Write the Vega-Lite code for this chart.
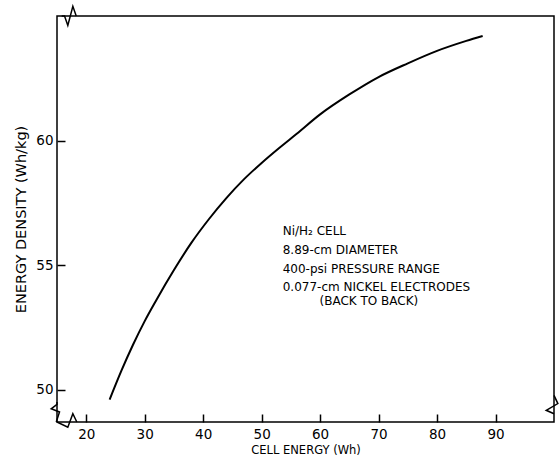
{
  "$schema": "https://vega.github.io/schema/vega-lite/v6.json",
  "width": 497,
  "height": 406,
  "autosize": {"type": "none"},
  "padding": {"left": 57, "top": 16, "right": 6, "bottom": 38},
  "background": "white",
  "config": {
    "view": {"stroke": "black", "strokeWidth": 1.5},
    "font": "DejaVu Sans",
    "axis": {
      "grid": false,
      "domain": false,
      "ticks": true,
      "offset": -8,
      "tickColor": "black",
      "tickWidth": 1.5,
      "tickSize": 8,
      "labelColor": "black",
      "labelFont": "DejaVu Sans",
      "labelFontSize": 13.5,
      "titleColor": "black",
      "titleFont": "DejaVu Sans",
      "titleFontWeight": "normal"
    }
  },
  "datasets": {
    "curve": [
      {"energy": 24, "density": 49.6},
      {"energy": 26, "density": 50.75},
      {"energy": 28, "density": 51.8},
      {"energy": 30, "density": 52.75},
      {"energy": 32, "density": 53.6},
      {"energy": 35, "density": 54.8},
      {"energy": 38, "density": 55.9},
      {"energy": 41, "density": 56.85},
      {"energy": 44, "density": 57.7},
      {"energy": 47, "density": 58.45},
      {"energy": 50, "density": 59.1},
      {"energy": 53, "density": 59.7},
      {"energy": 56, "density": 60.27},
      {"energy": 60, "density": 61.05},
      {"energy": 65, "density": 61.85},
      {"energy": 70, "density": 62.55},
      {"energy": 75, "density": 63.1},
      {"energy": 80, "density": 63.6},
      {"energy": 85, "density": 64.0},
      {"energy": 87.8, "density": 64.2}
    ],
    "breaks": [
      {"brk": "top", "i": 1, "energy": 15.8, "density": 65},
      {"brk": "top", "i": 2, "energy": 16.29, "density": 65},
      {"brk": "top", "i": 3, "energy": 16.85, "density": 64.62},
      {"brk": "top", "i": 4, "energy": 17.71, "density": 65.39},
      {"brk": "top", "i": 5, "energy": 18.29, "density": 65},
      {"brk": "left", "i": 1, "energy": 15, "density": 49.5},
      {"brk": "left", "i": 2, "energy": 15, "density": 49.41},
      {"brk": "left", "i": 3, "energy": 14.01, "density": 49.23},
      {"brk": "left", "i": 4, "energy": 15.43, "density": 49.1},
      {"brk": "left", "i": 5, "energy": 14.87, "density": 48.7},
      {"brk": "bottom", "i": 1, "energy": 15, "density": 48.7},
      {"brk": "bottom", "i": 2, "energy": 16.85, "density": 48.49},
      {"brk": "bottom", "i": 3, "energy": 17.71, "density": 49.03},
      {"brk": "bottom", "i": 4, "energy": 18.39, "density": 48.7},
      {"brk": "right", "i": 1, "energy": 100, "density": 49.77},
      {"brk": "right", "i": 2, "energy": 100.66, "density": 49.44},
      {"brk": "right", "i": 3, "energy": 98.67, "density": 49.17},
      {"brk": "right", "i": 4, "energy": 100, "density": 49.03}
    ],
    "notes": [
      {"x": 53.6, "y": 56.35, "label": "Ni/H₂ CELL"},
      {"x": 53.6, "y": 55.6, "label": "8.89-cm DIAMETER"},
      {"x": 53.6, "y": 54.85, "label": "400-psi PRESSURE RANGE"},
      {"x": 53.6, "y": 54.11, "label": "0.077-cm NICKEL ELECTRODES"},
      {"x": 59.9, "y": 53.57, "label": "(BACK TO BACK)"}
    ]
  },
  "layer": [
    {
      "data": {"name": "curve"},
      "mark": {"type": "line", "color": "black", "strokeWidth": 2, "interpolate": "monotone"},
      "encoding": {
        "x": {
          "field": "energy",
          "type": "quantitative",
          "scale": {"domain": [15, 100], "nice": false, "zero": false},
          "axis": {"values": [20, 30, 40, 50, 60, 70, 80, 90], "title": "CELL ENERGY (Wh)", "titleFontSize": 11.5, "labelPadding": 5, "titlePadding": 4}
        },
        "y": {
          "field": "density",
          "type": "quantitative",
          "scale": {"domain": [48.7, 65], "nice": false, "zero": false},
          "axis": {"values": [50, 55, 60], "title": "ENERGY DENSITY (Wh/kg)", "titleFontSize": 14.5, "labelPadding": 4, "titlePadding": 7}
        }
      }
    },
    {
      "data": {"name": "breaks"},
      "mark": {"type": "line", "color": "black", "strokeWidth": 1.5},
      "encoding": {
        "x": {"field": "energy", "type": "quantitative"},
        "y": {"field": "density", "type": "quantitative"},
        "detail": {"field": "brk"},
        "order": {"field": "i"}
      }
    },
    {
      "data": {"name": "notes"},
      "mark": {"type": "text", "align": "left", "baseline": "middle", "fontSize": 12, "color": "black", "font": "DejaVu Sans"},
      "encoding": {
        "x": {"field": "x", "type": "quantitative"},
        "y": {"field": "y", "type": "quantitative"},
        "text": {"field": "label"}
      }
    }
  ]
}
